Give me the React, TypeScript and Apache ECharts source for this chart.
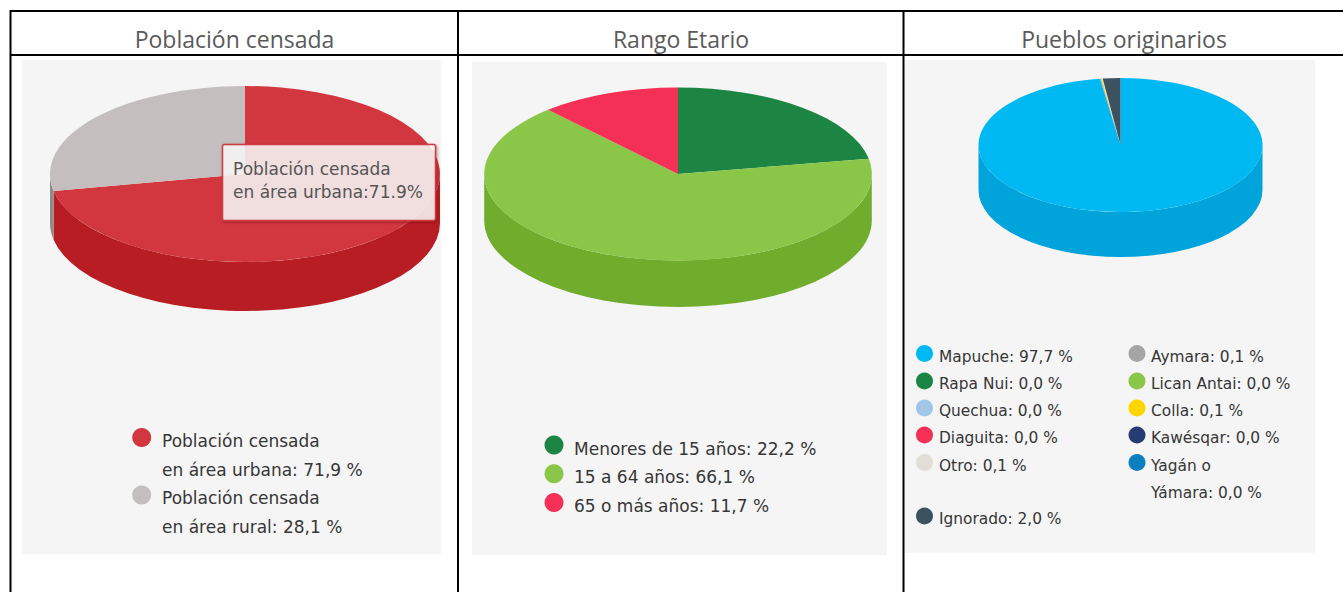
import React, { useEffect, useRef } from "react";
import * as echarts from "echarts";

const headers = ["Población censada", "Rango Etario", "Pueblos originarios"];

const censoLabels = [["Población censada", "en área urbana: "], ["Población censada", "en área rural: "]];
const censoValues = [71.9, 28.1];
const censoColors = ["#D2373F", "#C4BEBE"];
const censoWalls = ["#B81D24", "#8F8A8A"];

const edadLabels = [["Menores de 15 años: "], ["15 a 64 años: "], ["65 o más años: "]];
const edadValues = [22.2, 66.1, 11.7];
const edadColors = ["#1D8543", "#8AC647", "#F43057"];
const edadWalls = ["#14682F", "#71AD2D", "#C82445"];

// slice order, clockwise from 12 o'clock
const pueblosLabels = [["Mapuche: "], ["Aymara: "], ["Rapa Nui: "], ["Lican Antai: "], ["Quechua: "], ["Colla: "], ["Diaguita: "], ["Kawésqar: "], ["Otro: "], ["Yagán o", "Yámara: "], ["Ignorado: "]];
const pueblosValues = [97.7, 0.1, 0.0, 0.0, 0.0, 0.1, 0.0, 0.0, 0.1, 0.0, 2.0];
const pueblosColors = ["#00B9F2", "#A5A5A5", "#1D8543", "#8AC647", "#A2C6E8", "#FFD500", "#F43057", "#263A73", "#E0DED6", "#0C80BF", "#3C5260"];
const pueblosWalls = ["#00A3DA", "#8A8A8A", "#14682F", "#71AD2D", "#85A8C8", "#D9B500", "#C82445", "#1C2B57", "#BDBBB4", "#0A6A9E", "#2E404B"];

const tooltipLines = "Población censada\nen área urbana:71.9%";

const BODY_FONT = "DejaVu Sans";
const HEAD_FONT = "Open Sans";

const fmt = (v: number) => v.toFixed(1).replace(".", ",") + " %";

type Geo = { cx: number; cy: number; rx: number; ry: number; depth: number };
const pt = (g: Geo, deg: number, dy = 0): [number, number] => {
  const t = (deg * Math.PI) / 180;
  return [g.cx + g.rx * Math.sin(t), g.cy - g.ry * Math.cos(t) + dy];
};

function pieSeries(name: string, values: number[], colors: string[], walls: string[], g: Geo) {
  const total = values.reduce((a, b) => a + b, 0);
  const starts: number[] = [];
  values.reduce((acc, v) => {
    starts.push(acc);
    return acc + v;
  }, 0);
  const toDeg = (v: number) => (v / total) * 360;
  const wall = {
    type: "custom",
    name: name + " lateral",
    coordinateSystem: "none",
    silent: true,
    z: 2,
    data: values,
    renderItem: (p: any, api: any) => {
      const v = api.value(0);
      const a = Math.max(toDeg(starts[p.dataIndex]), 90);
      const b = Math.min(toDeg(starts[p.dataIndex] + v), 270);
      if (!(b > a)) return { type: "group", children: [] };
      const p1 = pt(g, a), p2 = pt(g, b), p3 = pt(g, b, g.depth), p4 = pt(g, a, g.depth);
      const d = `M${p1[0]} ${p1[1]}A${g.rx} ${g.ry} 0 0 1 ${p2[0]} ${p2[1]}L${p3[0]} ${p3[1]}A${g.rx} ${g.ry} 0 0 0 ${p4[0]} ${p4[1]}Z`;
      return { type: "path", shape: { pathData: d }, style: { fill: walls[p.dataIndex] } };
    },
  };
  const top = {
    type: "custom",
    name,
    coordinateSystem: "none",
    silent: true,
    z: 3,
    data: values,
    renderItem: (p: any, api: any) => {
      const v = api.value(0);
      if (!(v > 0)) return { type: "group", children: [] };
      const a = toDeg(starts[p.dataIndex]);
      const b = toDeg(starts[p.dataIndex] + v);
      const p1 = pt(g, a), p2 = pt(g, b);
      const d = `M${g.cx} ${g.cy}L${p1[0]} ${p1[1]}A${g.rx} ${g.ry} 0 ${b - a > 180 ? 1 : 0} 1 ${p2[0]} ${p2[1]}Z`;
      return { type: "path", shape: { pathData: d }, style: { fill: colors[p.dataIndex] } };
    },
  };
  return [wall, top];
}

function legendItem(color: string, lines: string[], value: number, cx: number, cy: number, tx: number, ty: number, step: number, r: number, size: number) {
  const out: any[] = [{ type: "circle", shape: { cx, cy, r }, style: { fill: color }, z: 5 }];
  lines.forEach((line, i) => {
    const last = i === lines.length - 1;
    out.push({
      type: "text",
      x: tx,
      y: ty + i * step,
      z: 5,
      style: {
        text: last ? line + fmt(value) : line,
        fill: "#363636",
        font: `${size}px "${BODY_FONT}"`,
        verticalAlign: "middle",
      },
    });
  });
  return out;
}

function bar(x: number, y: number, width: number, height: number) {
  return { type: "rect", shape: { x, y, width, height }, style: { fill: "#000" }, z: 6 };
}
function panel(x: number, y: number, width: number, height: number) {
  return { type: "rect", shape: { x, y, width, height }, style: { fill: "#F5F5F5" }, z: 0 };
}

export default function App() {
  const ref = useRef<HTMLDivElement>(null);
  useEffect(() => {
    if (!ref.current) return;
    const chart = echarts.init(ref.current, undefined, { renderer: "svg" });
    const graphic: any[] = [
      panel(22, 60, 419, 494),
      panel(472, 62, 415, 493),
      panel(905, 60, 410, 493),
      bar(10, 10, 1333, 2),
      bar(10, 54, 1333, 2),
      bar(9.5, 10, 2, 582),
      bar(457, 10, 2, 582),
      bar(902.5, 10, 2, 582),
    ];
    [234.5, 681, 1124].forEach((x, i) => {
      graphic.push({
        type: "text",
        x,
        y: 39,
        z: 5,
        style: { text: headers[i], fill: "#5A5A5A", font: `23px "${HEAD_FONT}"`, align: "center", verticalAlign: "middle" },
      });
    });
    graphic.push(...legendItem(censoColors[0], censoLabels[0], censoValues[0], 141.7, 437.5, 162, 441, 28.5, 9.5, 17));
    graphic.push(...legendItem(censoColors[1], censoLabels[1], censoValues[1], 141.7, 495, 162, 498, 29, 9.5, 17));
    edadValues.forEach((v, i) => {
      graphic.push(...legendItem(edadColors[i], edadLabels[i], v, 554, 445 + i * 28.7, 574, 448.5 + i * 28.5, 28, 9.5, 17));
    });
    const leftRows = [0, 2, 4, 6, 8, 10];
    const rightRows = [1, 3, 5, 7, 9];
    const leftY = [353.5, 381, 408, 435, 462.5, 516];
    const rightY = [353.5, 381, 408, 435, 462.5];
    leftRows.forEach((idx, r) => {
      graphic.push(...legendItem(pueblosColors[idx], pueblosLabels[idx], pueblosValues[idx], 924.5, leftY[r], 939, leftY[r] + 3, 27, 8.5, 15.4));
    });
    rightRows.forEach((idx, r) => {
      graphic.push(...legendItem(pueblosColors[idx], pueblosLabels[idx], pueblosValues[idx], 1137, rightY[r], 1151, rightY[r] + 3, 27, 8.5, 15.4));
    });
    graphic.push({
      type: "rect",
      shape: { x: 222.5, y: 144.5, width: 213, height: 76, r: 2 },
      style: { fill: "rgba(255,255,255,0.8)", stroke: "#CF3A42", lineWidth: 1.5, shadowBlur: 3, shadowColor: "rgba(90,0,0,0.5)", shadowOffsetX: 1, shadowOffsetY: 1 },
      z: 10,
    });
    graphic.push({
      type: "text",
      x: 233,
      y: 157.5,
      z: 11,
      style: { text: tooltipLines, fill: "#555", font: `17px "${BODY_FONT}"`, lineHeight: 23, verticalAlign: "top" },
    });

    chart.setOption({
      animation: false,
      backgroundColor: "#fff",
      graphic,
      series: [
        ...pieSeries("Población censada", censoValues, censoColors, censoWalls, { cx: 245, cy: 174, rx: 195, ry: 88, depth: 49 }),
        ...pieSeries("Rango Etario", edadValues, edadColors, edadWalls, { cx: 678, cy: 174, rx: 193.8, ry: 86.5, depth: 46.5 }),
        ...pieSeries("Pueblos originarios", pueblosValues, pueblosColors, pueblosWalls, { cx: 1120.5, cy: 145, rx: 142, ry: 67, depth: 45 }),
      ],
    });
    return () => chart.dispose();
  }, []);
  return <div ref={ref} style={{ position: "absolute", left: 0, top: 0, width: 1343, height: 592 }} />;
}
